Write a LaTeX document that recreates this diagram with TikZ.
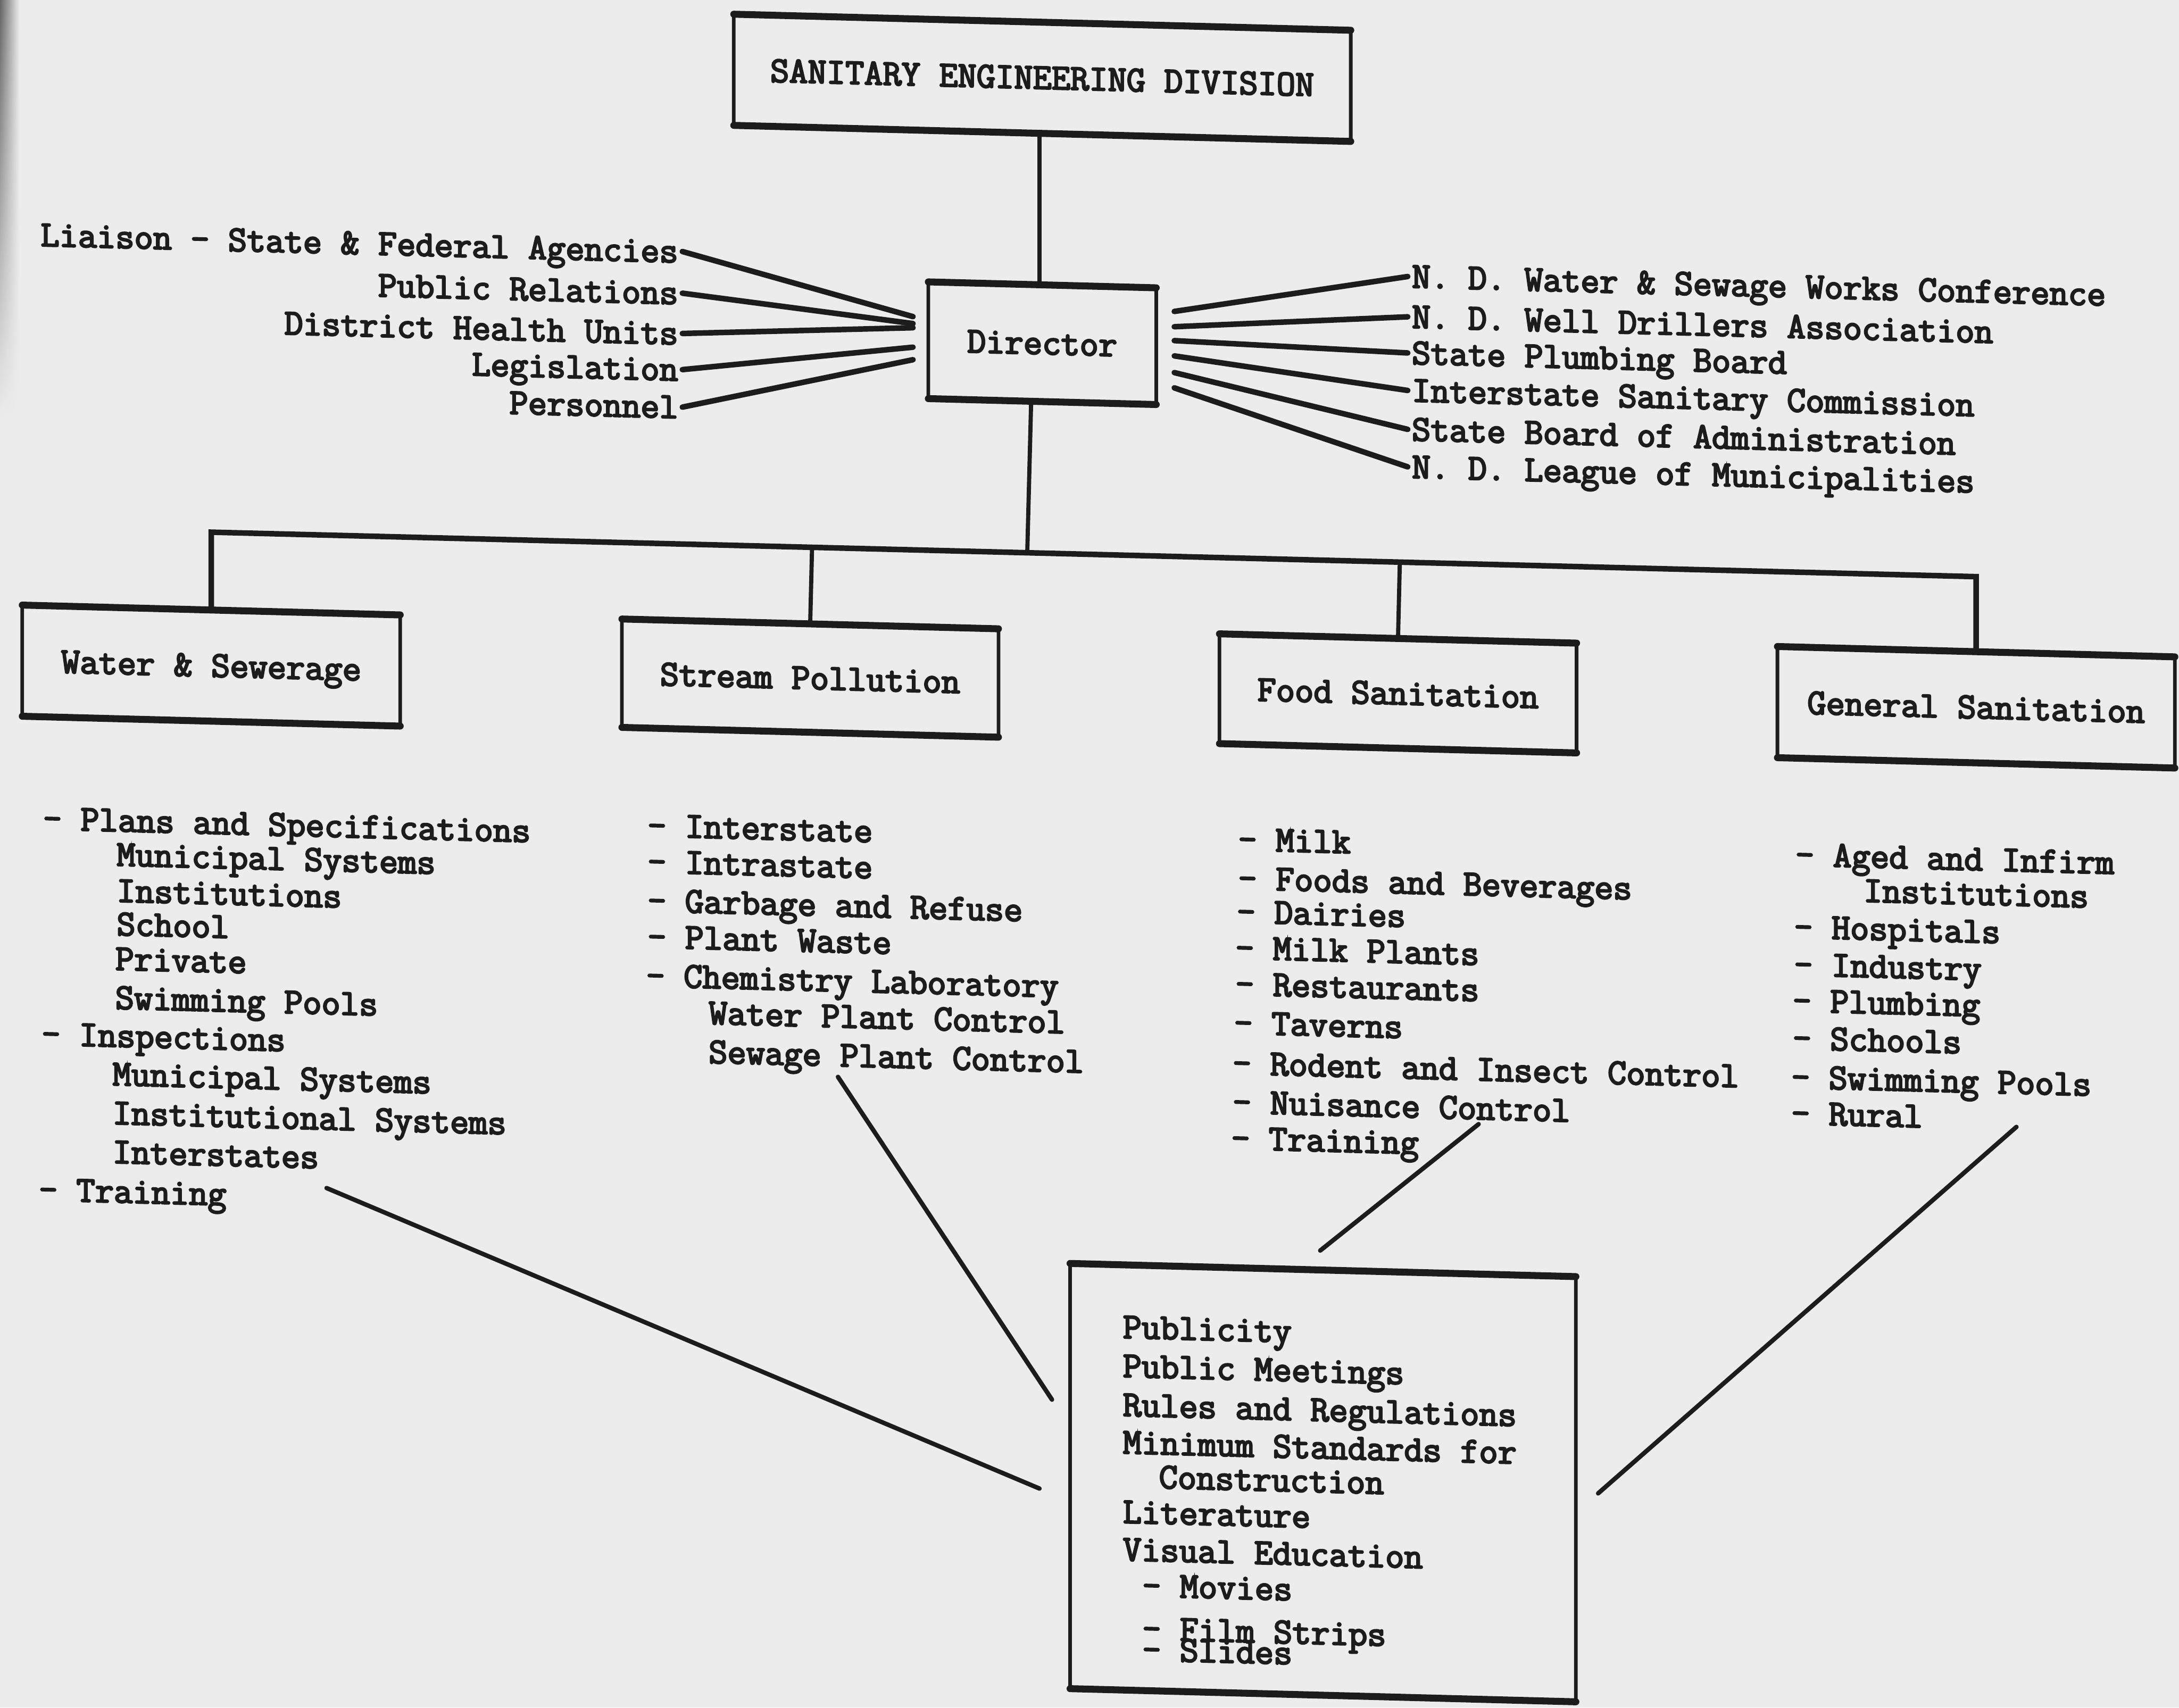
\documentclass[tikz,border=0pt]{standalone}
\usepackage{fontspec}
\newfontfamily\tw[FakeBold=4]{Latin Modern Mono}
\usetikzlibrary{calc,fadings}
\definecolor{ink}{HTML}{1C1C1C}
\definecolor{paper}{HTML}{ECECEC}
\begin{document}
\begin{tikzpicture}[x=1pt,y=-1pt,
  every node/.style={font=\tw\fontsize{26.2}{27}\selectfont\frenchspacing, text=ink, inner sep=0pt, outer sep=0pt},
  sk/.style={yslant=-0.026},
  orgbox/.style={sk, draw=ink, line width=2.6pt, text height=18pt, text depth=2pt},
  lab/.style={sk, text height=18pt, text depth=2pt},
  item/.style={lab, anchor=west},
  fan/.style={draw=ink, line width=4pt, line cap=round},
  conn/.style={draw=ink, line width=3pt},
  diag/.style={draw=ink, line width=3.2pt, line cap=round},
  boxedge/.style={draw=ink, line width=5pt, line cap=round}
]
\fill[paper] (0,0) rectangle (1568,1229);
\useasboundingbox (0,0) rectangle (1568,1229);
\shade[left color=black!60, right color=paper, path fading=south] (0,0) rectangle (14,300);

% boxes
\node[orgbox, minimum width=444pt, minimum height=80pt] (sed) at (750,56) {SANITARY ENGINEERING DIVISION};
\node[orgbox, minimum width=164pt, minimum height=84pt] (dir) at (750,247) {Director};
\node[orgbox, minimum width=272pt, minimum height=80pt] (ws) at (152,479) {Water \& Sewerage};
\node[orgbox, minimum width=271pt, minimum height=78pt] (sp) at (583,488) {Stream Pollution};
\node[orgbox, minimum width=257pt, minimum height=79pt] (fs) at (1006,499) {Food Sanitation};
\node[orgbox, minimum width=286pt, minimum height=80pt] (gs) at (1422,509) {General Sanitation};
\node[orgbox, minimum width=364pt, minimum height=306pt] (pub) at (952,1067) {};
\foreach \n in {sed,dir,ws,sp,fs,gs,pub}
  \draw[boxedge] (\n.north west) -- (\n.north east) (\n.south west) -- (\n.south east);

% hierarchy connectors
\draw[conn] ($(sed.south)+(-2,0)$) -- ($(dir.north)+(-2,0)$);
\coordinate (barL) at (ws.north |- 0,383);
\coordinate (barR) at (gs.north |- 0,415);
\draw[conn, line width=4pt] (ws.north) -- (barL) -- (barR) -- (gs.north);
\draw[conn] (sp.north) -- ($(barL)!(sp.north)!(barR)$);
\draw[conn] (fs.north) -- ($(barL)!(fs.north)!(barR)$);
\coordinate (dj) at ($(dir.south)+(-8,0)$);
\draw[conn] (dj) -- ($(barL)!(dj)!(barR)$);

% left labels
\node[lab, anchor=east] (l1) at (488,181) {Liaison - State \& Federal Agencies};
\node[lab, anchor=east] (l2) at (488,211) {Public Relations};
\node[lab, anchor=east] (l3) at (488,240) {District Health Units};
\node[lab, anchor=east] (l4) at (488,266) {Legislation};
\node[lab, anchor=east] (l5) at (488,293) {Personnel};
\foreach \n/\d in {l1/-17, l2/-12, l3/-9, l4/5, l5/14}
  \draw[fan] ($(\n.east)+(3,0)$) -- ($(dir.west)+(-11,\d)$);

% right labels
\node[lab, anchor=west] (r1) at (1016,199) {N. D. Water \& Sewage Works Conference};
\node[lab, anchor=west] (r2) at (1016,228) {N. D. Well Drillers Association};
\node[lab, anchor=west] (r3) at (1016,254) {State Plumbing Board};
\node[lab, anchor=west] (r4) at (1016,281) {Interstate Sanitary Commission};
\node[lab, anchor=west] (r5) at (1016,309) {State Board of Administration};
\node[lab, anchor=west] (r6) at (1016,336) {N. D. League of Municipalities};
\foreach \n/\d in {r1/-25, r2/-14, r3/-4, r4/7, r5/19, r6/30}
  \draw[fan] ($(dir.east)+(13,\d)$) -- ($(\n.west)+(-3,0)$);

% Water & Sewerage list
\foreach \xx/\yy/\txt [count=\k] in {31/589/{- Plans and Specifications}, 84/615/{Municipal Systems}, 84/641/{Institutions}, 84/665/{School}, 83/690/{Private}, 83/718/{Swimming Pools}, 30/744/{- Inspections}, 81/773/{Municipal Systems}, 81/801/{Institutional Systems}, 81/829/{Interstates}, 28/856/{- Training}}
  \node[item] (wsi\k) at (\xx,\yy) {\txt};

% Stream Pollution list
\foreach \xx/\yy/\txt [count=\k] in {466/594/{- Interstate}, 466/620/{- Intrastate}, 466/648/{- Garbage and Refuse}, 466/674/{- Plant Waste}, 465/702/{- Chemistry Laboratory}, 510/729/{Water Plant Control}, 510/757/{Sewage Plant Control}}
  \node[item] (spi\k) at (\xx,\yy) {\txt};

% Food Sanitation list
\foreach \xx/\yy/\txt [count=\k] in {891/604/{- Milk}, 891/632/{- Foods and Beverages}, 890/656/{- Dairies}, 889/682/{- Milk Plants}, 889/708/{- Restaurants}, 888/736/{- Taverns}, 887/765/{- Rodent and Insect Control}, 887/793/{- Nuisance Control}, 886/819/{- Training}}
  \node[item] (fsi\k) at (\xx,\yy) {\txt};

% General Sanitation list
\foreach \xx/\yy/\txt [count=\k] in {1292/615/{- Aged and Infirm}, 1341/641/{Institutions}, 1291/667/{- Hospitals}, 1291/694/{- Industry}, 1290/720/{- Plumbing}, 1290/747/{- Schools}, 1289/775/{- Swimming Pools}, 1289/801/{- Rural}}
  \node[item] (gsi\k) at (\xx,\yy) {\txt};

% bottom box text
\foreach \xx/\yy/\txt [count=\k] in {808/955/{Publicity}, 808/983/{Public Meetings}, 808/1011/{Rules and Regulations}, 808/1038/{Minimum Standards for}, 834/1063/{Construction}, 808/1088/{Literature}, 808/1115/{Visual Education}, 822/1141/{- Movies}, 822/1172/{- Film Strips}, 822/1187/{- Slides}}
  \node[item] (pbi\k) at (\xx,\yy) {\txt};

% diagonal connectors to the bottom box
\coordinate (t1) at (235,855);
\coordinate (t2) at (603,775);
\coordinate (t3) at (1064,809);
\coordinate (t4) at (1451,811);
\draw[diag] (t1) -- ($(pub.west)+(-22,9)$);
\draw[diag] (t2) -- ($(pub.west)+(-13,-55)$);
\draw[diag] (t3) -- ($(pub.north)+(-2,-14)$);
\draw[diag] (t4) -- ($(pub.east)+(16,3)$);
\end{tikzpicture}
\end{document}
